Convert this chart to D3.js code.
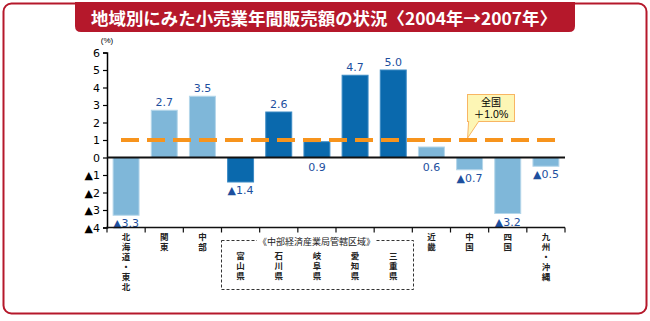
<!DOCTYPE html>
<html>
<head>
<meta charset="utf-8">
<script src="https://cdn.jsdelivr.net/npm/d3@7"></script>
<style>
  body { margin: 0; background: #fff; }
  svg { display: block; font-family: "Liberation Sans", Arial, "Noto Sans CJK JP", sans-serif; }
</style>
</head>
<body>
<svg></svg>
<script>
// region names (drawn vertically under the axis)
const regions = ['北海道・東北', '関東', '中部', '富山県', '石川県', '岐阜県', '愛知県', '三重県', '近畿', '中国', '四国', '九州・沖縄'];
// change in annual retail sales 2004 -> 2007 (%)
const changes = [-3.3, 2.7, 3.5, -1.4, 2.6, 0.9, 4.7, 5.0, 0.6, -0.7, -3.2, -0.5];
// prefectures under the Chubu bureau get the darker colour
const chubuGroup = ['富山県', '石川県', '岐阜県', '愛知県', '三重県'];
const nationalAvg = 1.0;
const yTicks = [6, 5, 4, 3, 2, 1, 0, -1, -2, -3, -4];

const size = {w: 650, h: 321};
const red = '#b5182b';
const svg = d3.select('svg').attr('width', size.w).attr('height', size.h);

// outer frame + title tab
svg.append('rect')
    .attr('x', 3.5).attr('y', 3.5)
    .attr('width', 643).attr('height', 310)
    .attr('rx', 8)
    .attr('fill', 'none')
    .attr('stroke', red)
    .attr('stroke-width', 2);

svg.append('path')
    .attr('d', 'M75,2 H575 V26 Q575,32 569,32 H81 Q75,32 75,26 Z')
    .attr('fill', red);

svg.append('text')
    .attr('x', 91).attr('y', 24.5)
    .attr('textLength', 466)
    .attr('lengthAdjust', 'spacingAndGlyphs')
    .attr('fill', '#fff')
    .style('font-family', '"Noto Sans CJK JP", sans-serif')
    .style('font-weight', 'bold')
    .style('font-size', '17px')
    .text('地域別にみた小売業年間販売額の状況〈2004年→2007年〉');

// scales
let x = d3.scaleBand()
    .domain(regions)
    .range([107, 565])
    .paddingInner(0.32)
    .paddingOuter(0.16);

let y = d3.scaleLinear()
    .domain([-4, 6])
    .range([227.5, 52.5]);

const fmt = v => (v < 0 ? '▲' : '') + d3.format('.1f')(Math.abs(v));

// y axis
let yAxis = d3.axisLeft(y)
    .tickValues(yTicks)
    .tickSize(4)
    .tickFormat(d => d < 0 ? '▲' + (-d) : d);

let yG = svg.append('g')
    .attr('transform', 'translate(107,0)')
    .call(yAxis);
yG.select('.domain').attr('stroke', '#000').attr('stroke-width', 1.5);
yG.selectAll('.tick line').attr('stroke', '#000').attr('stroke-width', 1.2);
yG.selectAll('.tick text')
    .attr('x', -7)
    .attr('fill', '#000')
    .style('font-family', '"DejaVu Sans", sans-serif')
    .style('font-size', '11px');

svg.append('text')
    .attr('x', 107).attr('y', 43)
    .attr('text-anchor', 'middle')
    .style('font-size', '8px')
    .text('(%)');

// bars
svg.append('g').selectAll('rect')
    .data(regions)
    .enter()
    .append('rect')
    .attr('x', d => x(d))
    .attr('width', x.bandwidth())
    .attr('y', (d, i) => y(Math.max(0, changes[i])))
    .attr('height', (d, i) => Math.abs(y(changes[i]) - y(0)))
    .attr('fill', d => chubuGroup.includes(d) ? '#0a69ad' : '#7fb7d9')
    .attr('stroke', d => chubuGroup.includes(d) ? '#3b8ac4' : '#b4d6ea')
    .attr('stroke-width', 1);

// value labels: above positive bars, below the zero line or the bar end otherwise
svg.append('g').selectAll('text')
    .data(regions)
    .enter()
    .append('text')
    .attr('x', d => x(d) + x.bandwidth() / 2)
    .attr('y', (d, i) => {
        let v = changes[i];
        if (v >= 1.5) return y(v) - 4;
        if (v >= 0) return y(0) + 13;
        return y(v) + 12;
    })
    .attr('text-anchor', 'middle')
    .attr('fill', '#1d4f9e')
    .style('font-family', '"DejaVu Sans", sans-serif')
    .style('font-size', '11px')
    .text((d, i) => fmt(changes[i]));

// zero line and bottom axis
svg.append('line')
    .attr('x1', 107).attr('x2', 565)
    .attr('y1', y(0)).attr('y2', y(0))
    .attr('stroke', '#111').attr('stroke-width', 2);

svg.append('line')
    .attr('x1', 106).attr('x2', 565)
    .attr('y1', y(-4)).attr('y2', y(-4))
    .attr('stroke', '#111').attr('stroke-width', 1.5);

// category boundary ticks
let step = x.step();
svg.append('g').selectAll('line')
    .data(d3.range(regions.length + 1))
    .enter()
    .append('line')
    .attr('x1', i => 107 + i * step)
    .attr('x2', i => 107 + i * step)
    .attr('y1', y(-4)).attr('y2', y(-4) + 5)
    .attr('stroke', '#111').attr('stroke-width', 1.2);

// national average dashed line
svg.append('line')
    .attr('x1', 121).attr('x2', 556)
    .attr('y1', y(nationalAvg)).attr('y2', y(nationalAvg))
    .attr('stroke', '#f7941d')
    .attr('stroke-width', 4)
    .attr('stroke-dasharray', '18,8');

// callout
let cx = x('中国');
svg.append('path')
    .attr('d', `M${cx + 12},121.5 L${cx + 11},${y(nationalAvg) - 2} L${cx + 22},121.5`)
    .attr('fill', '#fdf6b5')
    .attr('stroke', '#f8b563')
    .attr('stroke-width', 1);
svg.append('rect')
    .attr('x', 467.5).attr('y', 94.5)
    .attr('width', 47).attr('height', 27)
    .attr('fill', '#fdf6b5')
    .attr('stroke', '#f8b563')
    .attr('stroke-width', 1);
svg.append('line')
    .attr('x1', cx + 12.5).attr('x2', cx + 21.5)
    .attr('y1', 121.5).attr('y2', 121.5)
    .attr('stroke', '#fdf6b5').attr('stroke-width', 1.5);
svg.append('text')
    .attr('x', 491).attr('y', 106)
    .attr('text-anchor', 'middle')
    .style('font-size', '10px')
    .style('font-family', '"Noto Sans CJK JP", sans-serif')
    .text('全国');
svg.append('text')
    .attr('x', 491).attr('y', 118)
    .attr('text-anchor', 'middle')
    .style('font-size', '10.5px')
    .text('＋1.0%');

// vertical category labels
svg.append('g')
    .style('font-family', '"Noto Sans CJK JP", sans-serif')
    .style('font-size', '8.5px')
    .style('font-weight', 'bold')
    .style('writing-mode', 'vertical-rl')
    .style('letter-spacing', '1.5px')
    .attr('fill', '#222')
    .selectAll('text')
    .data(regions)
    .enter()
    .append('text')
    .attr('x', d => x(d) + x.bandwidth() / 2)
    .attr('y', d => chubuGroup.includes(d) ? 252 : 233)
    .text(d => d);

// dashed box around the Chubu bureau prefectures
let bx0 = x('富山県') - 0.16 * step - 1;
let bx1 = x('三重県') + x.bandwidth() + 0.16 * step;
svg.append('rect')
    .attr('x', Math.round(bx0) + 0.5).attr('y', 240.5)
    .attr('width', Math.round(bx1 - bx0)).attr('height', 49)
    .attr('fill', 'none')
    .attr('stroke', '#333')
    .attr('stroke-width', 1)
    .attr('stroke-dasharray', '3,2');

let groupBg = svg.append('rect').attr('fill', '#fff');
let groupLabel = svg.append('text')
    .attr('x', (bx0 + bx1) / 2).attr('y', 241)
    .attr('text-anchor', 'middle')
    .attr('dominant-baseline', 'central')
    .style('font-family', '"Noto Sans CJK JP", sans-serif')
    .style('font-size', '9px')
    .attr('fill', '#222')
    .text('《中部経済産業局管轄区域》');

let bb = groupLabel.node().getBBox();
groupBg.attr('x', bb.x - 1).attr('y', bb.y + 2)
    .attr('width', bb.width + 2).attr('height', bb.height - 4);
</script>
</body>
</html>
